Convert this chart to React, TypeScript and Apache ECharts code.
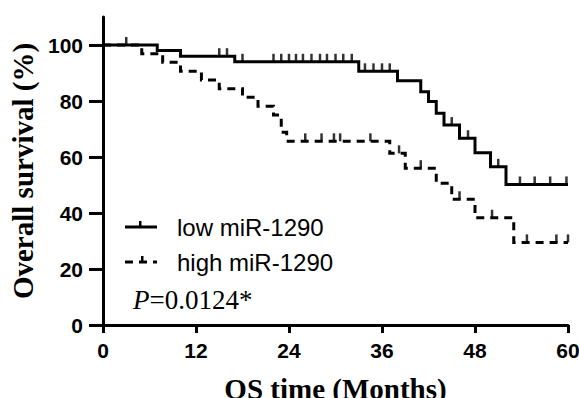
import React, { useEffect, useRef } from "react";
import * as echarts from "echarts";

// Kaplan-Meier step points (time in months, survival %)
const lowTimes = [0, 7, 10, 17, 33, 38, 41, 42, 43, 44, 46, 48, 50, 52, 60];
const lowSurv = [100, 98, 96, 94, 90.6, 87.2, 83.3, 79.8, 75.6, 71.4, 66.7, 61.5, 56.5, 50.2, 50.2];
const lowCensor = [3, 15, 16, 18, 22, 23, 24, 24.9, 25.8, 26.9, 28, 28.9, 30, 31, 32.1, 33.8, 34.9, 36, 37, 45, 47.1, 51, 53.8, 55.7, 57.7, 59.8];

const highTimes = [0, 5, 7.7, 10, 12.7, 15, 18, 20, 22, 23, 23.7, 37, 39, 43, 45, 48, 53, 60];
const highSurv = [100, 96.9, 93.8, 90.6, 87.5, 84.4, 81.3, 78.1, 75, 68.8, 65.6, 61.3, 56, 50.6, 44.9, 38.3, 29.5, 29.5];
const highCensor = [26.1, 28.2, 29.8, 30.6, 34.5, 38.2, 41, 46, 50.2, 54.7, 58.5, 60];

const xTicks = [0, 12, 24, 36, 48, 60];
const yTicks = [0, 20, 40, 60, 80, 100];

const seriesNames = ["low miR-1290", "high miR-1290"];
const pText = "0.0124*";

function levelAt(times: number[], surv: number[], t: number) {
  let v = surv[0];
  for (let i = 0; i < times.length; i++) {
    if (times[i] <= t) v = surv[i];
  }
  return v;
}

export default function App() {
  const ref = useRef<HTMLDivElement>(null);
  useEffect(() => {
    if (!ref.current) return;
    const chart = echarts.init(ref.current, undefined, { renderer: "svg" });
    const sans = "'Liberation Sans', Arial, sans-serif";
    const serif = "'Liberation Serif', 'Times New Roman', serif";
    const lineData = (ts: number[], ss: number[]) => ts.map((t, i) => [t, ss[i]]);
    const censorData = (cs: number[], ts: number[], ss: number[]) => cs.map((t) => [t, levelAt(ts, ss, t)]);
    chart.setOption({
      animation: false,
      backgroundColor: "#ffffff",
      grid: { left: 103, right: 11, top: 17, bottom: 73, containLabel: false, outerBoundsMode: "none" },
      xAxis: {
        type: "value",
        min: 0,
        max: 60,
        interval: 12,
        name: "OS time (Months)",
        nameLocation: "middle",
        nameGap: 49,
        nameTextStyle: { fontFamily: serif, fontWeight: "bold", fontSize: 29, color: "#000" },
        axisLine: { show: true, onZero: false, lineStyle: { color: "#000", width: 3 } },
        axisTick: { show: true, length: 8, lineStyle: { color: "#000", width: 3 } },
        axisLabel: { margin: 15, fontFamily: sans, fontWeight: "bold", fontSize: 21, color: "#000", customValues: xTicks },
        splitLine: { show: false },
      },
      yAxis: {
        type: "value",
        min: 0,
        max: 110,
        interval: 20,
        name: "Overall survival (%)",
        nameLocation: "middle",
        nameGap: 60,
        nameTextStyle: { fontFamily: serif, fontWeight: "bold", fontSize: 29, color: "#000" },
        axisLine: { show: true, onZero: false, lineStyle: { color: "#000", width: 3 } },
        axisTick: { show: true, length: 14, customValues: yTicks, lineStyle: { color: "#000", width: 3 } },
        axisLabel: { margin: 20, fontFamily: sans, fontWeight: "bold", fontSize: 21, color: "#000", customValues: yTicks },
        splitLine: { show: false },
      },
      series: [
        {
          name: seriesNames[0],
          type: "line",
          step: "end",
          showSymbol: false,
          symbol: "none",
          data: lineData(lowTimes, lowSurv),
          lineStyle: { color: "#000", width: 3, cap: "butt", join: "miter" },
        },
        {
          name: seriesNames[1],
          type: "line",
          step: "end",
          showSymbol: false,
          symbol: "none",
          data: lineData(highTimes, highSurv),
          lineStyle: { color: "#000", width: 3, type: [8, 6], cap: "butt", join: "miter" },
        },
        {
          type: "scatter",
          data: censorData(lowCensor, lowTimes, lowSurv),
          symbol: "rect",
          symbolSize: [2.5, 8],
          symbolOffset: [0, -4],
          itemStyle: { color: "#000" },
        },
        {
          type: "scatter",
          data: censorData(highCensor, highTimes, highSurv),
          symbol: "rect",
          symbolSize: [2.5, 8],
          symbolOffset: [0, -4],
          itemStyle: { color: "#000" },
        },
      ],
      graphic: [
        { type: "line", shape: { x1: 125, y1: 227, x2: 157, y2: 227 }, style: { stroke: "#000", lineWidth: 3 } },
        { type: "rect", shape: { x: 139, y: 221, width: 2.5, height: 6 }, style: { fill: "#000" } },
        {
          type: "text",
          x: 177,
          y: 227,
          style: { text: seriesNames[0], font: `24px ${sans}`, fill: "#000", verticalAlign: "middle" },
        },
        {
          type: "line",
          shape: { x1: 125, y1: 262, x2: 157, y2: 262 },
          style: { stroke: "#000", lineWidth: 3, lineDash: [8, 6] },
        },
        { type: "rect", shape: { x: 141, y: 256, width: 2.5, height: 6 }, style: { fill: "#000" } },
        {
          type: "text",
          x: 177,
          y: 262,
          style: { text: seriesNames[1], font: `24px ${sans}`, fill: "#000", verticalAlign: "middle" },
        },
        {
          type: "text",
          x: 133,
          y: 300,
          style: {
            text: `{p|P}{n|=${pText}}`,
            verticalAlign: "middle",
            rich: {
              p: { fontFamily: serif, fontStyle: "italic", fontSize: 27, fill: "#000", color: "#000" },
              n: { fontFamily: serif, fontSize: 27, fill: "#000", color: "#000" },
            },
          },
        },
      ],
    });
    return () => chart.dispose();
  }, []);
  return (
    <div
      ref={ref}
      style={{ position: "absolute", left: 0, top: 0, width: 579, height: 398, background: "#fff" }}
    />
  );
}
